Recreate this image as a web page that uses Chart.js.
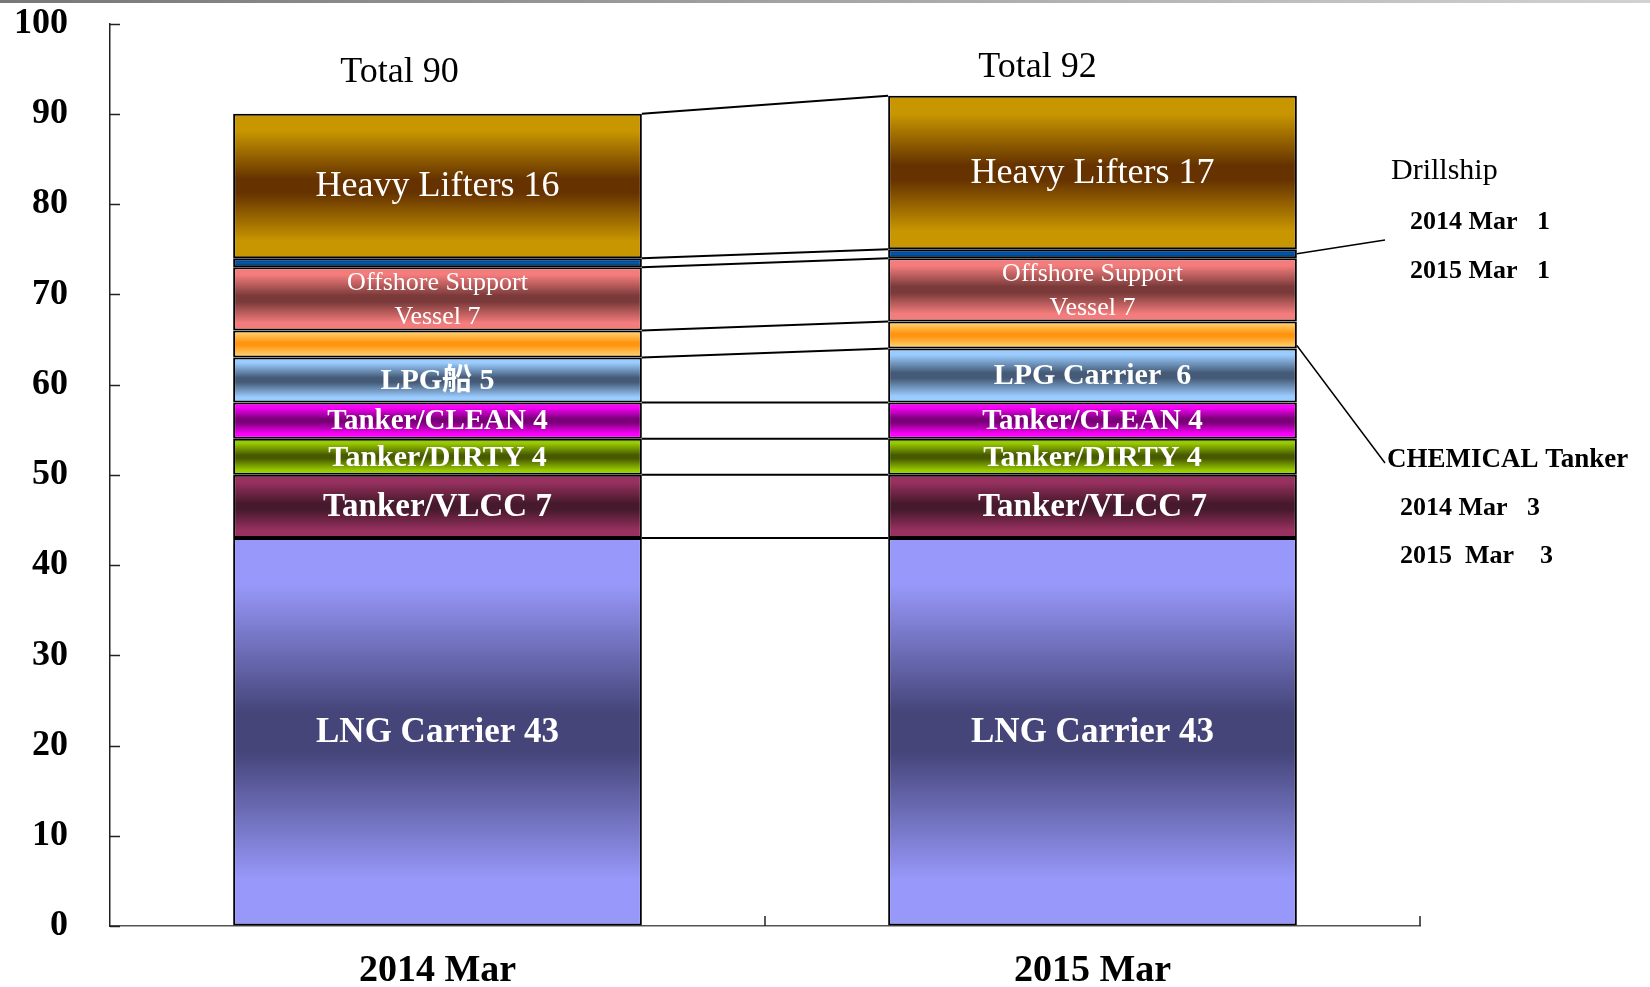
<!DOCTYPE html>
<html lang="en">
  <head>
    <meta charset="UTF-8" />
    <script src="https://cdn.jsdelivr.net/npm/chart.js"></script>
    <title>Fleet</title>
    <style>
      body { margin: 0; background: #fff; }
      #wrap { position: relative; width: 1650px; height: 987px; }
      #topline { position: absolute; left: 0; top: 0; width: 1650px; height: 3px; background: linear-gradient(to right, #777, #d2d2d2); }
    </style>
  </head>
  <body>
    <div id="wrap"><canvas id="chart"></canvas></div>
    <div id="topline"></div>

    <script>
      const categories = ['2014 Mar', '2015 Mar']
      const lngCarrier = [43, 43]
      const tankerVlcc = [7, 7]
      const tankerDirty = [4, 4]
      const tankerClean = [4, 4]
      const lpg = [5, 6]
      const chemicalTanker = [3, 3]
      const offshoreSupport = [7, 7]
      const drillship = [1, 1]
      const heavyLifters = [16, 17]

      const lngText = ['LNG Carrier 43', 'LNG Carrier 43']
      const vlccText = ['Tanker/VLCC 7', 'Tanker/VLCC 7']
      const dirtyText = ['Tanker/DIRTY 4', 'Tanker/DIRTY 4']
      const cleanText = ['Tanker/CLEAN 4', 'Tanker/CLEAN 4']
      const lpgText = ['LPG船 5', 'LPG Carrier  6']
      const offshoreText = ['Offshore Support\nVessel 7', 'Offshore Support\nVessel 7']
      const heavyText = ['Heavy Lifters 16', 'Heavy Lifters 17']

      const SERIF = '"Liberation Serif", "Times New Roman", "Noto Sans CJK JP", serif'

      // edge colour, middle colour of each band
      const styles = {
        lng: ['#9898fa', '#45457a'],
        vlcc: ['#983060', '#461a2c'],
        dirty: ['#99cc00', '#485a00'],
        clean: ['#ff00ff', '#7a0078'],
        lpg: ['#9accff', '#445a76'],
        chem: ['#ffc860', '#ff9410'],
        offshore: ['#f47c7c', '#7a3a3a'],
        drill: ['#003070', '#0058a8'],
        heavy: ['#c89600', '#663300'],
      }

      const fillFor = (c) => {
        const chart = c.chart
        const ds = chart.data.datasets[c.datasetIndex]
        const [edge, mid] = styles[ds.styleKey]
        if (c.type !== 'data' || !chart.chartArea) return edge
        const j = c.dataIndex
        let base = 0
        for (let k = 0; k < c.datasetIndex; k++) base += chart.data.datasets[k].data[j]
        const y = chart.scales.y
        const top = y.getPixelForValue(base + ds.data[j])
        const bottom = y.getPixelForValue(base)
        const g = chart.ctx.createLinearGradient(0, top, 0, bottom)
        g.addColorStop(0, edge)
        g.addColorStop(0.12, edge)
        g.addColorStop(0.45, mid)
        g.addColorStop(0.55, mid)
        g.addColorStop(0.88, edge)
        g.addColorStop(1, edge)
        return g
      }

      const series = [
        { label: 'LNG Carrier', data: lngCarrier, styleKey: 'lng', segText: lngText, segFont: 'bold 35px ' + SERIF },
        { label: 'Tanker/VLCC', data: tankerVlcc, styleKey: 'vlcc', segText: vlccText, segFont: 'bold 33px ' + SERIF },
        { label: 'Tanker/DIRTY', data: tankerDirty, styleKey: 'dirty', segText: dirtyText, segFont: 'bold 30px ' + SERIF },
        { label: 'Tanker/CLEAN', data: tankerClean, styleKey: 'clean', segText: cleanText, segFont: 'bold 29px ' + SERIF },
        { label: 'LPG', data: lpg, styleKey: 'lpg', segText: lpgText, segFont: 'bold 30px ' + SERIF },
        { label: 'CHEMICAL Tanker', data: chemicalTanker, styleKey: 'chem' },
        { label: 'Offshore Support Vessel', data: offshoreSupport, styleKey: 'offshore', segText: offshoreText, segFont: '26px ' + SERIF, lineGap: 34 },
        { label: 'Drillship', data: drillship, styleKey: 'drill' },
        { label: 'Heavy Lifters', data: heavyLifters, styleKey: 'heavy', segText: heavyText, segFont: '36px ' + SERIF },
      ]

      const datasets = series.map((s) => ({
        ...s,
        backgroundColor: fillFor,
        borderColor: '#000',
        borderWidth: 2,
        borderSkipped: false,
      }))

      const overlay = {
        id: 'overlay',
        afterDatasetsDraw(chart) {
          const { ctx, chartArea } = chart
          const xs = chart.scales.x
          const ys = chart.scales.y
          const n = chart.data.datasets.length
          ctx.save()

          // lines joining the band tops of the two bars
          ctx.strokeStyle = '#000'
          ctx.lineWidth = 2
          for (let i = 0; i < n; i++) {
            const [a, b] = chart.getDatasetMeta(i).data
            ctx.beginPath()
            ctx.moveTo(a.x + a.width / 2, a.y)
            ctx.lineTo(b.x - b.width / 2, b.y)
            ctx.stroke()
          }

          // inward tick marks
          ctx.lineWidth = 1.5
          ctx.strokeStyle = '#222'
          ys.ticks.forEach((t) => {
            const py = Math.round(ys.getPixelForValue(t.value)) + 0.5
            ctx.beginPath()
            ctx.moveTo(chartArea.left, py)
            ctx.lineTo(chartArea.left + 10, py)
            ctx.stroke()
          })
          const mid = (xs.getPixelForValue(0) + xs.getPixelForValue(1)) / 2
          ;[mid, chartArea.right].forEach((px) => {
            ctx.beginPath()
            ctx.moveTo(px, chartArea.bottom)
            ctx.lineTo(px, chartArea.bottom - 10)
            ctx.stroke()
          })

          // band labels
          ctx.fillStyle = '#fff'
          ctx.textAlign = 'center'
          ctx.textBaseline = 'middle'
          chart.data.datasets.forEach((ds, i) => {
            if (!ds.segText) return
            ctx.font = ds.segFont
            chart.getDatasetMeta(i).data.forEach((bar, j) => {
              const lines = ds.segText[j].split('\n')
              const cy = (bar.y + bar.base) / 2
              lines.forEach((ln, k) => {
                ctx.fillText(ln, bar.x, cy + (k - (lines.length - 1) / 2) * (ds.lineGap || 0) + 1)
              })
            })
          })

          // totals over the bars
          ctx.fillStyle = '#000'
          ctx.font = '36px ' + SERIF
          const topBars = chart.getDatasetMeta(n - 1).data
          const totalShift = [[-38, -41], [-55, -28]]
          topBars.forEach((bar, j) => {
            const total = chart.data.datasets.reduce((s, ds) => s + ds.data[j], 0)
            ctx.fillText('Total ' + total, bar.x + totalShift[j][0], bar.y + totalShift[j][1])
          })

          // side notes with leader lines
          const right = chart.getDatasetMeta(0).data[1]
          const edgeX = right.x + right.width / 2
          const drillBar = chart.getDatasetMeta(7).data[1]
          const chemBar = chart.getDatasetMeta(5).data[1]
          ctx.strokeStyle = '#000'
          ctx.lineWidth = 1.5
          ctx.beginPath()
          ctx.moveTo(edgeX, (drillBar.y + drillBar.base) / 2)
          ctx.lineTo(1385, 240)
          ctx.moveTo(edgeX, chemBar.base - 3)
          ctx.lineTo(1385, 463)
          ctx.stroke()

          ctx.textAlign = 'left'
          ctx.font = '30px ' + SERIF
          ctx.fillText('Drillship', 1391, 171)
          ctx.font = 'bold 26px ' + SERIF
          ctx.fillText(categories[0] + '   ' + drillship[0], 1410, 222)
          ctx.fillText(categories[1] + '   ' + drillship[1], 1410, 271)
          ctx.font = 'bold 27px ' + SERIF
          ctx.fillText('CHEMICAL Tanker', 1387, 460)
          ctx.font = 'bold 26px ' + SERIF
          ctx.fillText(categories[0] + '   ' + chemicalTanker[0], 1400, 508)
          ctx.fillText('2015  Mar    ' + chemicalTanker[1], 1400, 556)

          ctx.restore()
        },
      }

      new Chart(document.getElementById('chart'), {
        type: 'bar',
        data: { labels: categories, datasets },
        options: {
          responsive: true,
          maintainAspectRatio: false,
          animation: false,
          layout: { padding: { top: 21, right: 230, left: 0, bottom: 0 } },
          datasets: { bar: { categoryPercentage: 1, barPercentage: 0.624 } },
          plugins: { legend: { display: false }, tooltip: { enabled: false } },
          scales: {
            x: {
              stacked: true,
              afterFit: (s) => { s.height = 61 },
              grid: { drawOnChartArea: false, drawTicks: true, tickLength: 21, tickColor: 'rgba(0,0,0,0)' },
              border: { display: true, color: '#555', width: 1.5 },
              ticks: { color: '#000', padding: 1, font: { family: SERIF, size: 38, weight: 'bold' } },
            },
            y: {
              stacked: true,
              min: 0,
              max: 100,
              afterFit: (s) => { s.width = 110 },
              grid: { drawOnChartArea: false, drawTicks: true, tickLength: 40, tickColor: 'rgba(0,0,0,0)' },
              border: { display: true, color: '#222', width: 1.5 },
              ticks: { stepSize: 10, color: '#000', padding: 2, font: { family: SERIF, size: 36, weight: 'bold' } },
            },
          },
        },
        plugins: [overlay],
      })
    </script>
  </body>
</html>
